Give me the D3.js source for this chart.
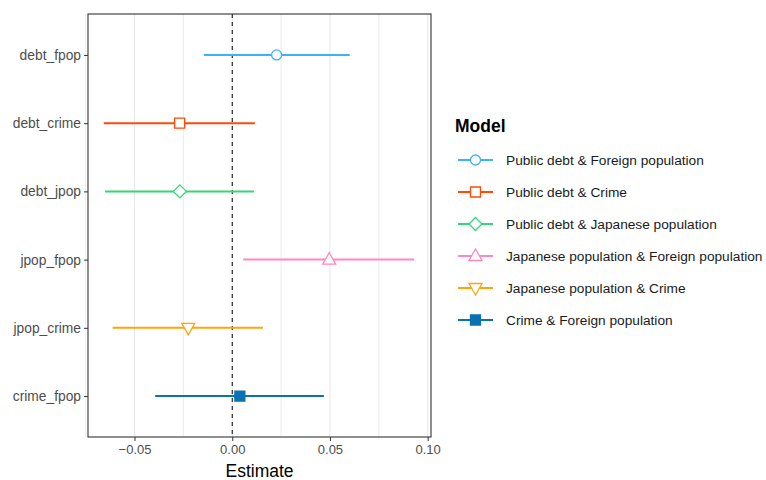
<!DOCTYPE html>
<html><head><meta charset="utf-8">
<script src="https://cdn.jsdelivr.net/npm/d3@7"></script>
<style>body{margin:0;background:#fff;} text{font-family:"Liberation Sans",Arial,sans-serif;}</style>
</head><body><svg id="c" width="766" height="480"></svg>
<script>
const terms = ["debt_fpop","debt_crime","debt_jpop","jpop_fpop","jpop_crime","crime_fpop"];
const models = ["Public debt & Foreign population","Public debt & Crime","Public debt & Japanese population","Japanese population & Foreign population","Japanese population & Crime","Crime & Foreign population"];
const estimates = [0.0227,-0.0269,-0.0268,0.0496,-0.0225,0.0039];
const lower = [-0.0145,-0.0657,-0.0651,0.0056,-0.0612,-0.0394];
const upper = [0.0601,0.0116,0.0111,0.0931,0.0157,0.0469];
const xTicks = [-0.05,0,0.05,0.10];
const xMinor = [-0.075,-0.025,0.025,0.075];
const colors = ["#3DB2F7","#FF4A0A","#33D67A","#FF88C4","#FFA50A","#0A72B2"];
const shapes = ["circle","square","diamond","triangle","triangleDown","squareFilled"];

const svg = d3.select("#c");
const L=88,R=431,T=14,B=437;
const x = d3.scaleLinear().domain([-0.0738,0.1017]).range([L,R]);
const y = d3.scalePoint().domain(terms).range([T,B]).padding(0.6);

const g = svg.append("g");
g.selectAll(".gmaj").data(xTicks).join("line").attr("x1",d=>x(d)).attr("x2",d=>x(d)).attr("y1",T).attr("y2",B).attr("stroke","#E6E6E6").attr("stroke-width",1);
g.selectAll(".gmin").data(xMinor).join("line").attr("x1",d=>x(d)).attr("x2",d=>x(d)).attr("y1",T).attr("y2",B).attr("stroke","#ECECEC").attr("stroke-width",1);
g.append("line").attr("x1",x(0)).attr("x2",x(0)).attr("y1",T).attr("y2",B).attr("stroke","#000").attr("stroke-width",1).attr("stroke-dasharray","4,4");

function shapePath(s, cx, cy){
  const p = d3.path();
  if(s==="circle"){ p.arc(cx,cy,5,0,2*Math.PI); }
  else if(s==="square"||s==="squareFilled"){ p.rect(cx-5,cy-5,10,10); }
  else if(s==="diamond"){ p.moveTo(cx,cy-6.5);p.lineTo(cx+6.5,cy);p.lineTo(cx,cy+6.5);p.lineTo(cx-6.5,cy);p.closePath(); }
  else if(s==="triangle"){ p.moveTo(cx,cy-7);p.lineTo(cx+6.5,cy+4.5);p.lineTo(cx-6.5,cy+4.5);p.closePath(); }
  else if(s==="triangleDown"){ p.moveTo(cx,cy+7);p.lineTo(cx+6.5,cy-4.5);p.lineTo(cx-6.5,cy-4.5);p.closePath(); }
  return p.toString();
}

const data = terms.map((t,i)=>({t,m:models[i],est:estimates[i],lo:lower[i],hi:upper[i],c:colors[i],s:shapes[i]}));
g.selectAll(".ci").data(data).join("line").attr("x1",d=>x(d.lo)).attr("x2",d=>x(d.hi)).attr("y1",d=>y(d.t)).attr("y2",d=>y(d.t)).attr("stroke",d=>d.c).attr("stroke-width",2);
g.selectAll(".pt").data(data).join("path").attr("d",d=>shapePath(d.s,x(d.est),y(d.t)))
  .attr("fill",d=>d.s==="squareFilled"?d.c:"#fff").attr("stroke",d=>d.c).attr("stroke-width",1.3);

svg.append("rect").attr("x",L).attr("y",T).attr("width",R-L).attr("height",B-T).attr("fill","none").attr("stroke","#333").attr("stroke-width",1.1);

const xa = svg.append("g").attr("transform",`translate(0,${B})`).call(d3.axisBottom(x).tickValues(xTicks).tickFormat(d3.format(".2f")).tickSize(4).tickPadding(4));
xa.select(".domain").remove();
xa.selectAll("line").attr("stroke","#333");
xa.selectAll("text").attr("fill","#4D4D4D").style("font-size","13px").style("font-family","Liberation Sans, Arial, sans-serif");
const ya = svg.append("g").attr("transform",`translate(${L},0)`).call(d3.axisLeft(y).tickSize(4).tickPadding(3));
ya.select(".domain").remove();
ya.selectAll("line").attr("stroke","#333");
ya.selectAll("text").attr("fill","#4D4D4D").style("font-size","13.8px").style("font-family","Liberation Sans, Arial, sans-serif");

svg.append("text").attr("x",(L+R)/2).attr("y",477).attr("text-anchor","middle").style("font-size","17.5px").attr("fill","#000").text("Estimate");

const lg = svg.append("g");
lg.append("text").attr("x",455).attr("y",132).style("font-size","17.5px").style("font-weight","bold").attr("fill","#000").text("Model");
const rowY = i=>160+i*32;
data.forEach((d,i)=>{
  const yy=rowY(i), cx=475.5;
  lg.append("line").attr("x1",458).attr("x2",493).attr("y1",yy).attr("y2",yy).attr("stroke",d.c).attr("stroke-width",2);
  lg.append("path").attr("d",shapePath(d.s,cx,yy)).attr("fill",d.s==="squareFilled"?d.c:"#fff").attr("stroke",d.c).attr("stroke-width",1.3);
  lg.append("text").attr("x",506).attr("y",yy+5).style("font-size","13.7px").attr("fill","#1A1A1A").text(d.m);
});
</script></body></html>
